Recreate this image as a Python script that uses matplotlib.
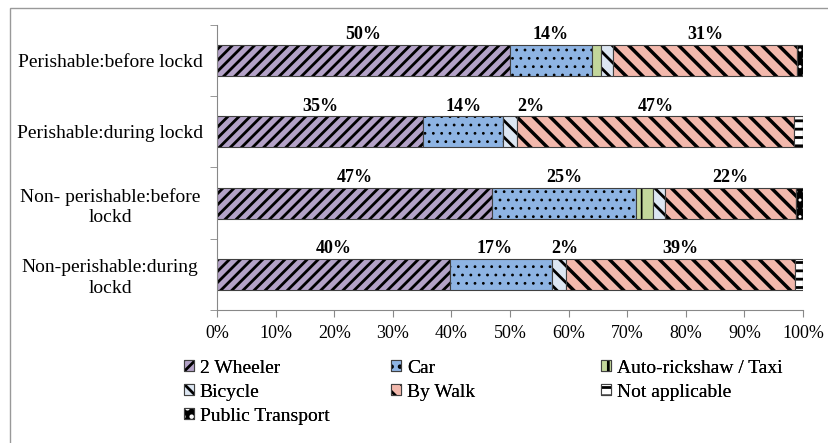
import numpy as np
import matplotlib
matplotlib.use('Agg')
import matplotlib.pyplot as plt
from matplotlib.patches import Rectangle

plt.rcParams['font.family'] = ['Liberation Serif', 'DejaVu Serif']
plt.rcParams['hatch.linewidth'] = 2.0

categories = ['Perishable:before lockd', 'Perishable:during lockd',
              'Non- perishable:before\nlockd', 'Non-perishable:during\nlockd']
modes = ['2 Wheeler', 'Car', 'Auto-rickshaw / Taxi', 'Bicycle',
         'By Walk', 'Not applicable', 'Public Transport']

# share of respondents (%) per mode, one value per category
two_wheeler = [50.0, 35.2, 46.9, 39.7]
car = [14.0, 13.6, 24.6, 17.4]
auto_taxi = [1.5, 0.0, 2.9, 0.0]
bicycle = [2.1, 2.4, 2.1, 2.4]
by_walk = [31.4, 47.2, 22.3, 39.2]
not_applicable = [0.0, 1.6, 0.0, 1.3]
public_transport = [1.0, 0.0, 1.2, 0.0]

# which segments carry a value label
show_label = [
    [True, True, True, True],
    [True, True, True, True],
    [False, False, False, False],
    [False, True, False, True],
    [True, True, True, True],
    [False, False, False, False],
    [False, False, False, False],
]

series = [two_wheeler, car, auto_taxi, bicycle, by_walk, not_applicable, public_transport]
colors = ['#b3a2c7', '#8eb4e3', '#c3d69b', '#dce6f2', '#f2b8ac', '#ffffff', '#000000']
hatches = ['///', '..', '|', '\\\\', '\\\\', '--', '..']
hatch_colors = ['black', 'black', 'black', 'black', 'black', 'black', 'white']
hatch_widths = [2.0, 0.8, 1.2, 2.0, 2.5, 2.0, 1.0]

# small horizontal shifts so neighbouring labels don't collide
nudge = {(3, 1): 3.5, (3, 3): 1.0, (1, 3): -1.0}

fig = plt.figure(figsize=(8.29, 4.43), dpi=100)
ax = fig.add_axes([0.2618, 0.3002, 0.7068, 0.6434])

y = np.arange(len(categories))
left = np.zeros(len(categories))
handles = []
for i, (vals, name) in enumerate(zip(series, modes)):
    vals = np.array(vals)
    bars = ax.barh(y, vals, left=left, height=0.435, color=colors[i],
                   edgecolor='#404040', linewidth=0.8, hatch=hatches[i], label=name)
    for b in bars:
        b._hatch_color = matplotlib.colors.to_rgba(hatch_colors[i])
        b.set_hatch_linewidth(hatch_widths[i])
    handles.append(bars)
    for j, v in enumerate(vals):
        if show_label[i][j]:
            ax.text(left[j] + v / 2 + nudge.get((i, j), 0), y[j] - 0.36, f'{v:.0f}%',
                    ha='center', va='center', fontsize=13, fontweight='bold')
    left += vals

ax.set_xlim(0, 100)
ax.set_ylim(3.5, -0.5)
ax.set_xticks(np.arange(0, 101, 10))
ax.set_xticklabels([f'{t}%' for t in range(0, 101, 10)], fontsize=13)
ax.set_yticks(y)
ax.set_yticklabels(categories, fontsize=14, ha='center', linespacing=1.25)
ax.tick_params(axis='y', length=0, pad=77)
ax.set_yticks(np.arange(-0.5, 4, 1), minor=True)
ax.tick_params(axis='y', which='minor', length=5, color='#888888')
ax.tick_params(axis='x', length=5, color='#888888', pad=6)
for s in ['top', 'right']:
    ax.spines[s].set_visible(False)
for s in ['left', 'bottom']:
    ax.spines[s].set_color('#888888')

# legend laid out row by row in three fixed columns
columns = [[0, 3, 6], [1, 4], [2, 5]]
col_x = [0.222, 0.472, 0.725]
for cx, col in zip(col_x, columns):
    leg = fig.legend([handles[k] for k in col], [modes[k] for k in col],
                     loc='upper left', bbox_to_anchor=(cx, 0.188), ncol=1,
                     frameon=False, fontsize=14, handlelength=0.5, handleheight=0.5,
                     handletextpad=0.3, labelspacing=0.36, borderpad=0,
                     borderaxespad=0)
    fig.add_artist(leg)

# outer chart border
fig.patches.append(Rectangle((0.012, -0.2), 1.2, 1.182, transform=fig.transFigure,
                             fill=False, edgecolor='#999999', linewidth=1))

fig.savefig('out.png', dpi=100)
